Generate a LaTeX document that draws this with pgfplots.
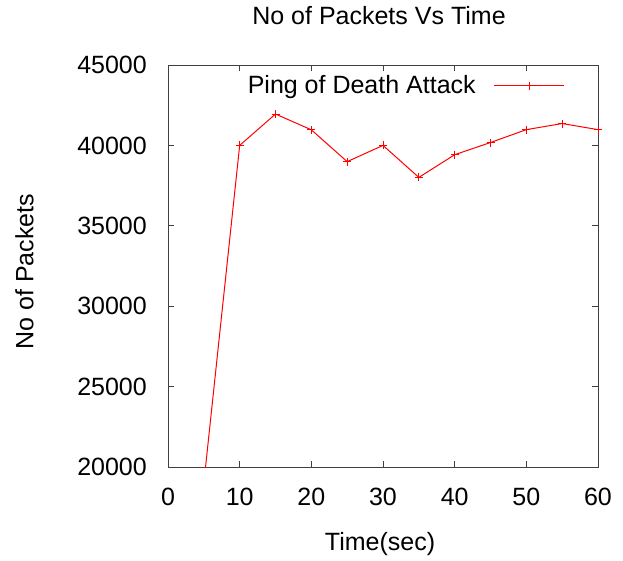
\documentclass[border=0pt]{standalone}
\usepackage{fontspec}
\setmainfont{Liberation Sans}
\usepackage{pgfplots}
\pgfplotsset{compat=1.18}
\definecolor{plotred}{RGB}{255,0,0}
\begin{document}
\begin{tikzpicture}[x=1pt,y=1pt]
\path[use as bounding box] (0,0) rectangle (623,560);
\begin{axis}[
  at={(168pt,93pt)}, anchor=south west,
  scale only axis, width=430pt, height=402pt,
  xmin=0, xmax=60, ymin=20000, ymax=45000,
  xtick={0,10,...,60}, ytick={20000,25000,...,45000},
  scaled y ticks=false, scaled x ticks=false,
  /pgf/number format/assume math mode=true,
  /pgf/number format/1000 sep={},
  tick label style={font=\fontsize{25}{30}\selectfont, inner sep=0pt},
  tick align=inside, major tick length=6pt,
  xtick pos=both, ytick pos=both,
  axis line style={black!75, line width=0.8pt},
  every tick/.style={black!75, line width=0.8pt},
  xticklabel style={anchor=center, yshift=-30pt},
  yticklabel style={anchor=east, xshift=-21pt},
  title={No of Packets Vs Time},
  title style={font=\fontsize{25}{30}\selectfont, inner sep=0pt, at={(0.5,1)}, anchor=center, yshift=43pt, xshift=-4pt},
  xlabel={Time(sec)},
  xlabel style={font=\fontsize{25}{30}\selectfont, inner sep=0pt, at={(0.5,0)}, anchor=base, yshift=-83pt, xshift=-3pt},
  ylabel={No of Packets},
  ylabel style={font=\fontsize{25}{30}\selectfont, inner sep=0pt, at={(-0.3337,0.486)}, anchor=center},
  legend plot pos=right,
  legend style={draw=none, fill=none, inner sep=0pt, outer sep=0pt, nodes={inner sep=0pt},
    column sep=18pt, at={(0.923,0.975)}, anchor=north east, font=\fontsize{25}{30}\selectfont},
  legend image code/.code={\draw[draw=plotred, line width=1.2pt] (0pt,-1pt) -- (70pt,-1pt); \draw[draw=plotred, line width=1pt] (35pt,-5pt) -- (35pt,3pt);},
  clip=true,
]
\addplot[draw=plotred, color=plotred, line width=1pt, mark=+, mark size=4pt,
  every mark/.append style={draw=plotred, line width=1pt}] coordinates {
  (5,19000) (10,40000) (15,41950) (20,40970) (25,38990) (30,40000) (35,38010)
  (40,39420) (45,40180) (50,40980) (55,41360) (60,40980)
};
\addlegendentry{Ping of Death Attack}
\end{axis}
\end{tikzpicture}
\end{document}
